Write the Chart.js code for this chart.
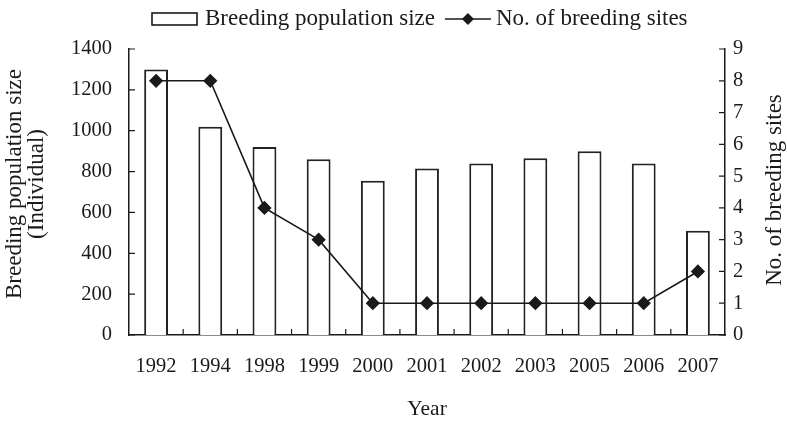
<!DOCTYPE html>
<html>
<head>
<meta charset="utf-8">
<script src="https://cdn.jsdelivr.net/npm/chart.js@4"></script>
<style>
  html, body { margin:0; padding:0; background:#fff; }
  #wrap { width:787px; height:422px; }
</style>
</head>
<body>
<div id="wrap"><canvas id="chart" width="787" height="422"></canvas></div>
<script>
const years = ['1992','1994','1998','1999','2000','2001','2002','2003','2005','2006','2007'];
const popSize = [1300, 1020, 920, 860, 755, 815, 840, 865, 900, 840, 510];
const sites = [8, 8, 4, 3, 1, 1, 1, 1, 1, 1, 2];
const popTicks = [0, 200, 400, 600, 800, 1000, 1200, 1400];
const siteTicks = [0, 1, 2, 3, 4, 5, 6, 7, 8, 9];

const FONT = 'Liberation Serif, Times New Roman, serif';
const INK = '#1a1a1a';

// ticks pointing into the plot + legend + axis titles
const extras = {
  id:'extras',
  afterDraw(chart){
    const ctx = chart.ctx, a = chart.chartArea;
    const x = chart.scales.x, y = chart.scales.y, y1 = chart.scales.y1;
    ctx.save();
    ctx.strokeStyle = INK; ctx.lineWidth = 1.2;
    ctx.beginPath();
    y.ticks.forEach(t=>{ const p = y.getPixelForValue(t.value); ctx.moveTo(a.left, p); ctx.lineTo(a.left+6, p); });
    y1.ticks.forEach(t=>{ const p = y1.getPixelForValue(t.value); ctx.moveTo(a.right, p); ctx.lineTo(a.right-6, p); });
    for(let i=0;i<years.length-1;i++){
      const p = (x.getPixelForValue(i)+x.getPixelForValue(i+1))/2;
      ctx.moveTo(p, a.bottom); ctx.lineTo(p, a.bottom-6);
    }
    ctx.stroke();

    // legend
    ctx.font = '23px ' + FONT;
    ctx.textBaseline = 'middle'; ctx.textAlign = 'left';
    const ly = 19;
    ctx.lineWidth = 1.6;
    ctx.fillStyle = '#fff';
    ctx.fillRect(152, 13, 45, 12); ctx.strokeRect(152, 13, 45, 12);
    ctx.fillStyle = INK;
    const t1 = chart.data.datasets[0].label;
    ctx.fillText(t1, 205, ly);
    const lx = 205 + ctx.measureText(t1).width + 10;
    ctx.lineWidth = 1.5;
    ctx.beginPath(); ctx.moveTo(lx, ly); ctx.lineTo(lx+46, ly); ctx.stroke();
    ctx.beginPath();
    ctx.moveTo(lx+23, ly-6); ctx.lineTo(lx+29, ly); ctx.lineTo(lx+23, ly+6); ctx.lineTo(lx+17, ly); ctx.closePath(); ctx.fill();
    ctx.fillText(chart.data.datasets[1].label, lx+51, ly);

    // axis titles, reading bottom to top
    ctx.textAlign = 'center';
    ctx.save();
    ctx.translate(15, 184);
    ctx.rotate(-Math.PI/2);
    ctx.fillText('Breeding population size', 0, 0);
    ctx.fillText('(Individual)', 0, 22);
    ctx.restore();

    ctx.translate(775, (a.top+a.bottom)/2 - 2);
    ctx.rotate(-Math.PI/2);
    ctx.fillText('No. of breeding sites', 0, 0);
    ctx.restore();
  }
};

new Chart(document.getElementById('chart'), {
  data:{
    labels: years,
    datasets:[
      { type:'bar', label:'Breeding population size', data: popSize, yAxisID:'y',
        backgroundColor:'#fff', borderColor:'#222', borderWidth:2,
        barPercentage:1, categoryPercentage:0.44, order:1 },
      { type:'line', label:'No. of breeding sites', data: sites, yAxisID:'y1',
        borderColor: INK, borderWidth:1.6, tension:0,
        pointStyle:'rectRot', pointRadius:6, pointBackgroundColor: INK, pointBorderColor: INK, order:0 }
    ]
  },
  options:{
    responsive:false, animation:false,
    layout:{ padding:{ top:49, bottom:0, left:0, right:0 } },
    plugins:{ legend:{ display:false }, tooltip:{ enabled:false } },
    scales:{
      x:{ offset:true, grid:{ display:false, drawTicks:false, tickLength:0 },
          border:{ color:INK, width:1.5 },
          ticks:{ color:INK, font:{ family:FONT, size:20.5 }, padding:19, maxRotation:0, autoSkip:false },
          title:{ display:true, text:'Year', color:INK, font:{ family:FONT, size:21.5, lineHeight:1.05 }, padding:{ bottom:1, top:0 } },
          afterFit: s => { s.height = 87; } },
      y:{ position:'left', min:0, max:1400,
          afterBuildTicks: s => { s.ticks = popTicks.map(v=>({ value:v })); },
          grid:{ display:false, drawTicks:false, tickLength:0 },
          border:{ color:INK, width:1.5 },
          ticks:{ color:INK, font:{ family:FONT, size:20.5 }, padding:17, callback: v => String(v) },
          afterFit: s => { s.width = 129; } },
      y1:{ position:'right', min:0, max:9,
          afterBuildTicks: s => { s.ticks = siteTicks.map(v=>({ value:v })); },
          grid:{ display:false, drawTicks:false, tickLength:0 },
          border:{ color:INK, width:1.5 },
          ticks:{ color:INK, font:{ family:FONT, size:20.5 }, padding:8, callback: v => String(v) },
          afterFit: s => { s.width = 62; } }
    }
  },
  plugins:[extras]
});
</script>
</body>
</html>
